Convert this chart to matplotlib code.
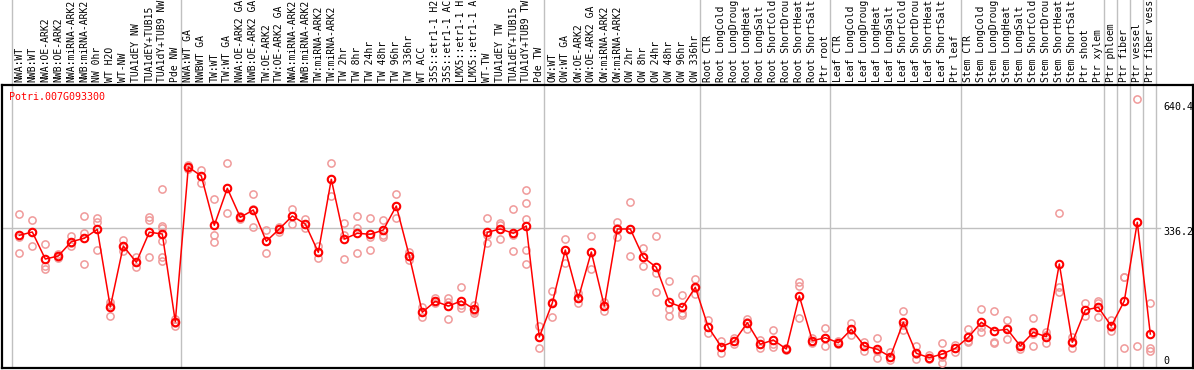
import matplotlib
matplotlib.use("Agg")
import matplotlib.pyplot as plt
import numpy as np

# sample labels (as displayed, truncated to 14 chars)
labels = [
    "NWA:WT", "NWB:WT", "NWA:OE-ARK2", "NWB:OE-ARK2", "NWA:miRNA-ARK2", "NWB:miRNA-ARK2",
    "NW 0hr", "WT H2O", "WT-NW", "TUA1dEY NW", "TUA1dEY+TUB15", "TUA1dY+TUB9 NW", "Pde NW",
    "NWA:WT GA", "NWBWT GA", "TW:WT", "TW:WT GA", "NWA:OE-ARK2 GA", "NWB:OE-ARK2 GA",
    "TW:OE-ARK2", "TW:OE-ARK2 GA", "NWA:miRNA-ARK2", "NWB:miRNA-ARK2", "TW:miRNA-ARK2",
    "TW:miRNA-ARK2", "TW 2hr", "TW 8hr", "TW 24hr", "TW 48hr", "TW 96hr", "TW 336hr",
    "WT ACC", "35S::etr1-1 H2", "35S::etr1-1 AC", "LMX5::etr1-1 H", "LMX5::etr1-1 A",
    "WT-TW", "TUA1dEY TW", "TUA1dEY+TUB15", "TUA1dY+TUB9 TW", "Pde TW",
    "OW:WT", "OW:WT GA", "OW:OE-ARK2", "OW:OE-ARK2 GA", "OW:miRNA-ARK2", "OW:miRNA-ARK2",
    "OW 2hr", "OW 8hr", "OW 24hr", "OW 48hr", "OW 96hr", "OW 336hr",
    "Root CTR", "Root LongCold", "Root LongDroug", "Root LongHeat", "Root LongSalt",
    "Root ShortCold", "Root ShortDrou", "Root ShortHeat", "Root ShortSalt", "Ptr root",
    "Leaf CTR", "Leaf LongCold", "Leaf LongDroug", "Leaf LongHeat", "Leaf LongSalt",
    "Leaf ShortCold", "Leaf ShortDrou", "Leaf ShortHeat", "Leaf ShortSalt", "Ptr leaf",
    "Stem CTR", "Stem LongCold", "Stem LongDroug", "Stem LongHeat", "Stem LongSalt",
    "Stem ShortCold", "Stem ShortDrou", "Stem ShortHeat", "Stem ShortSalt",
    "Ptr shoot", "Ptr xylem", "Ptr phloem", "Ptr fiber", "Ptr vessel", "Ptr fiber vess",
]

# last sample index of each group (separator lines drawn after them)
group_ends = [-1, 12, 40, 52, 62, 72, 83, 84, 85, 86, 87]

# mean expression per sample
means = [
    319.5, 327.5, 262.2, 269.5, 304.1, 312.3, 334.0, 146.2, 293.7, 254.3, 327.0, 322.7, 110.7,
    484.6, 462.9, 343.7, 433.1, 363.0, 380.7, 305.0, 334.8, 366.2, 346.8, 278.4, 454.9,
    310.6, 324.4, 321.9, 332.3, 390.3, 269.5, 133.4, 160.0, 148.6, 160.7, 140.7, 326.8,
    334.8, 324.4, 342.0, 73.7,
    155.9, 284.0, 167.3, 279.2, 148.6, 334.8, 334.8, 266.4, 242.2, 157.6, 145.5, 193.8,
    97.2, 50.3, 63.3, 108.3, 56.1, 66.5, 44.7, 172.8, 64.8, 72.0,
    59.9, 92.3, 52.0, 44.0, 26.1, 109.2, 34.3, 23.7, 32.6, 46.4,
    73.0, 109.2, 88.9, 92.3, 52.0, 85.1, 74.4, 250.2, 60.9, 139.0, 145.5,
    100.3, 160.7, 351.0, 81.0,
]

# replicate values per sample
reps = [
    [370.3, 314.7, 276.0], [356.5, 327.5, 293.7], [297.8, 246.1, 237.3], [274.3, 267.8, 263.9],
    [318.6, 300.0, 293.7], [365.5, 324.4, 250.2], [362.1, 352.4, 284.0], [159.0, 151.1, 125.1],
    [308.2, 292.0, 281.6], [266.4, 254.3, 243.6], [364.5, 356.5, 266.4],
    [430.7, 342.0, 336.4, 306.5, 266.4, 258.1], [117.2, 106.8, 101.0],
    [489.4, 484.6, 479.8], [477.4, 462.9, 445.2], [406.5, 320.3, 302.6], [493.6, 433.1, 372.7],
    [366.2, 363.0, 358.2], [419.3, 383.1, 338.9], [332.3, 305.0, 276.0], [340.3, 334.8, 328.2],
    [383.8, 366.2, 346.8], [358.2, 346.8, 336.4], [293.7, 278.4, 263.9], [493.6, 454.9, 414.5],
    [348.5, 320.3, 261.5], [365.5, 336.4, 276.0], [361.3, 316.1, 284.0], [356.5, 320.3, 314.7],
    [418.6, 390.3, 360.6], [279.9, 269.5, 259.8], [146.9, 133.4, 121.3], [167.3, 160.0, 156.6],
    [168.7, 159.0, 116.5], [194.6, 151.1, 143.1], [151.1, 136.6, 132.5], [361.3, 319.5, 300.2],
    [350.0, 344.4, 309.9], [383.1, 319.5, 281.6],
    [429.0, 396.9, 358.2, 342.0, 284.0, 250.2], [100.3, 73.7, 46.4],
    [184.9, 159.0, 121.3], [309.9, 284.0, 253.3], [179.3, 167.3, 156.6], [317.8, 279.2, 237.3],
    [159.0, 148.6, 137.3], [350.9, 336.4, 316.1], [399.3, 334.8, 269.5], [288.1, 266.4, 245.3],
    [317.1, 229.1, 181.7], [208.3, 140.7, 124.5], [175.2, 132.5, 126.9], [213.9, 191.4, 177.6],
    [114.8, 97.2, 82.7], [64.8, 50.3, 34.3], [70.6, 63.3, 56.8], [116.5, 110.7, 92.3],
    [66.5, 56.1, 47.1], [90.6, 56.8, 50.3], [47.9, 44.7, 42.3], [207.4, 197.0, 118.9],
    [70.6, 64.8, 59.9], [94.7, 70.6, 52.7],
    [64.8, 59.9, 56.8], [108.3, 90.6, 78.6], [62.4, 52.0, 40.6], [70.6, 39.9, 22.2],
    [38.2, 24.7, 18.1], [136.6, 102.7, 90.6], [52.0, 32.6, 19.8], [29.5, 23.7, 19.8],
    [58.5, 26.1, 11.6], [54.4, 46.4, 38.2],
    [92.3, 64.8, 62.4], [140.7, 98.6, 86.5], [136.6, 62.4, 58.5], [114.8, 94.7, 68.2],
    [54.4, 54.4, 44.0], [118.9, 81.0, 52.7], [85.1, 78.6, 58.5], [372.7, 195.3, 181.8],
    [74.4, 58.5, 47.9], [155.2, 139.0, 124.5], [160.7, 155.2, 121.3], [114.8, 98.6, 88.9],
    [218.0, 218.0, 46.4], [650.0, 351.0, 52.0], [155.2, 46.4, 40.6],
]

gene = "Potri.007G093300"
yticks = [0, 336.2, 640.4]
ytick_text = ["0", "336.2", "640.4"]

mono = "DejaVu Sans Mono"
W, H = 1194, 370
fig = plt.figure(figsize=(W / 100, H / 100), dpi=100)
ax_l, ax_r, ax_t, ax_b = 1.5, 1193, 85, 367.5
ax = fig.add_axes([ax_l / W, (H - ax_b) / H, (ax_r - ax_l) / W, (ax_b - ax_t) / H])

step = 13.0
x0 = 19.3
ax.set_xlim((ax_l - x0) / step, (ax_r - x0) / step)
ax.set_ylim(0, (ax_b - ax_t) * 2.417)
ax.set_xticks([])
ax.set_yticks([])
for s in ax.spines.values():
    s.set_linewidth(1.6)
    s.set_color("black")

x = np.arange(len(labels))

# group separators run up through the label area
seps = [g + 0.4 for g in group_ends]
ax.vlines(seps, 0, 1.31, transform=ax.get_xaxis_transform(), color="#c0c0c0",
          lw=1.0, clip_on=False, zorder=1)
ax.axhline(yticks[1], xmin=0, xmax=0.972, color="#c0c0c0", lw=1.0, zorder=1)

# replicates
for i, r in enumerate(reps):
    ax.plot([i] * len(r), r, ls="none", marker="o", ms=5.2, mfc="none",
            mec="#f09a9a", mew=1.1, zorder=3)

# means
ax.plot(x, means, color="#ff0000", lw=1.1, marker="o", ms=5.4, mfc="none",
        mec="#ff0000", mew=1.5, zorder=4)

for i, lab in enumerate(labels):
    ax.text(i, 1.0106, lab, transform=ax.get_xaxis_transform(), rotation=90,
            ha="center", va="bottom", fontsize=7, family=mono, clip_on=False)

ax.text(0.0065, 0.9575, gene, transform=ax.transAxes, color="#ff0000",
        fontsize=7.2, family=mono, ha="left", va="center")

offs = [6, -4, -4]
for v, t, o in zip(yticks, ytick_text, offs):
    ax.annotate(t, xy=(0.9748, v), xycoords=("axes fraction", "data"),
                xytext=(0, o), textcoords="offset pixels", fontsize=7.2,
                family=mono, ha="left", va="center")

fig.savefig("out.png", dpi=100)
